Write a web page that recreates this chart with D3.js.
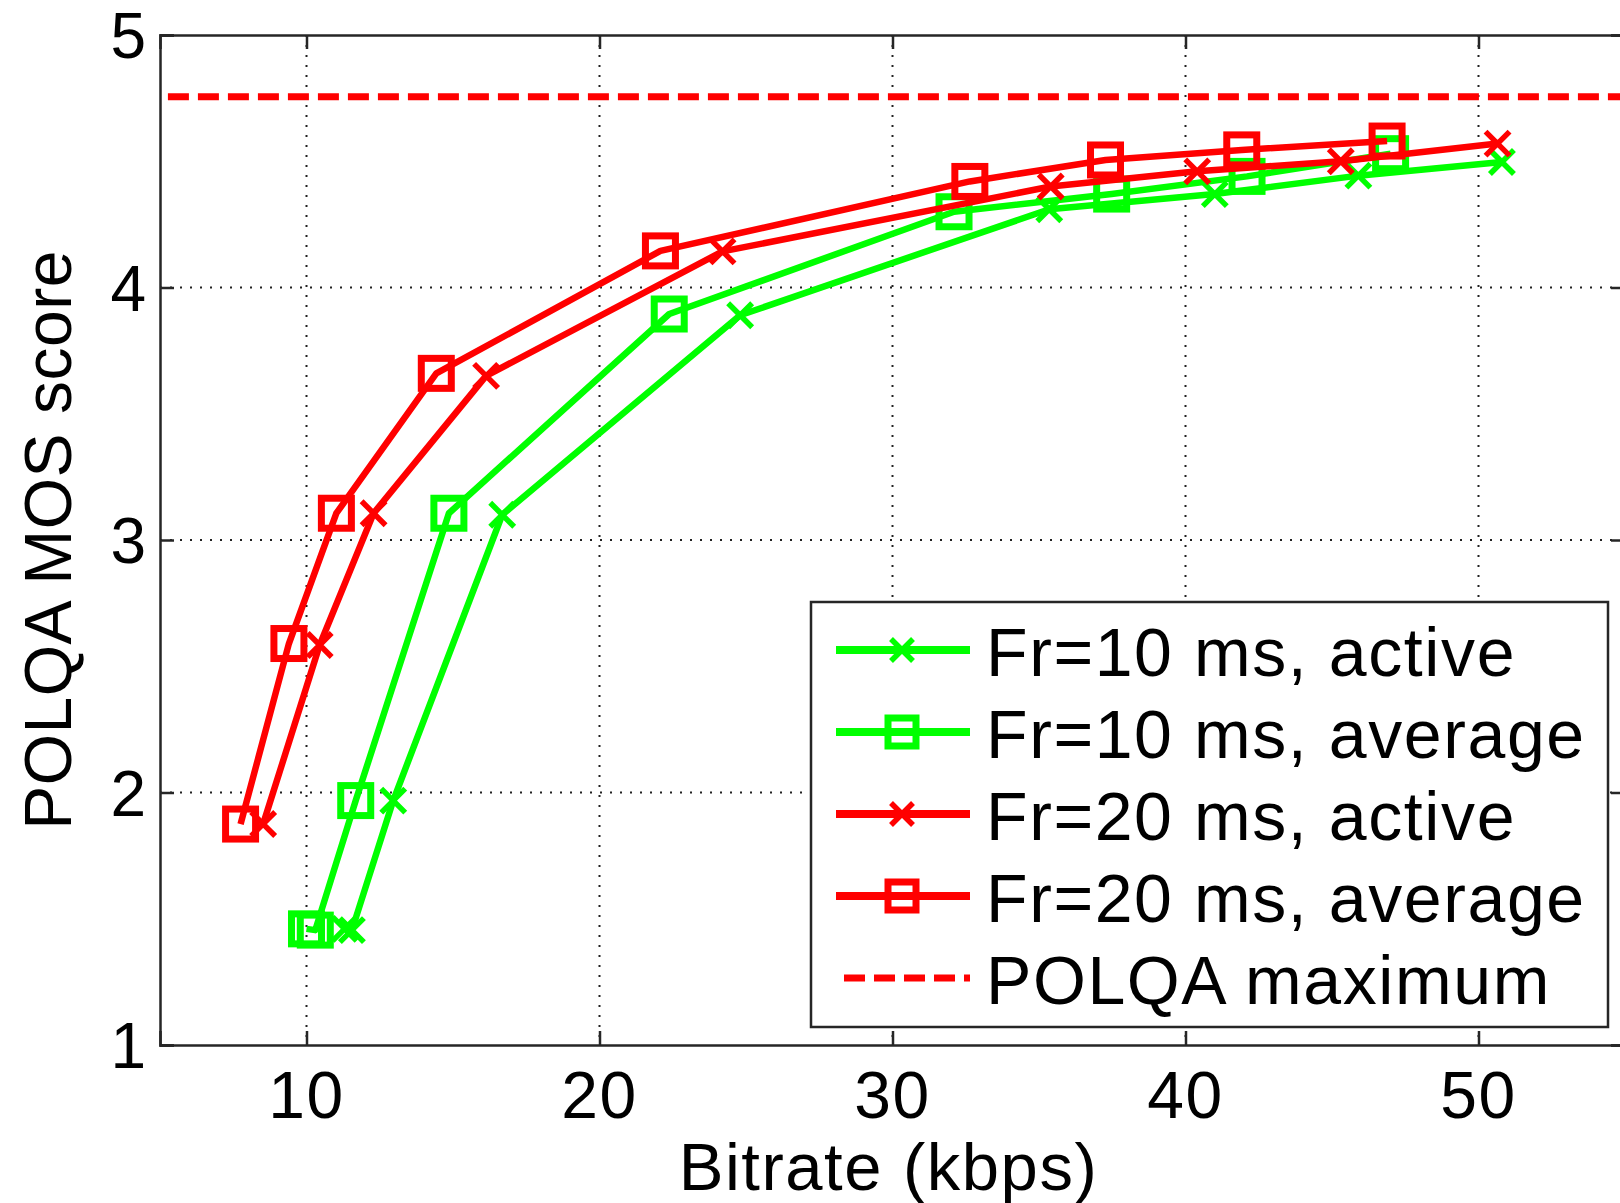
<!DOCTYPE html>
<html>
<head>
<meta charset="utf-8">
<script src="https://cdnjs.cloudflare.com/ajax/libs/d3/7.8.5/d3.min.js"></script>
<style>
  body { margin: 0; background: #ffffff; }
  text { font-family: "Liberation Sans", Arial, sans-serif; fill: #000; }
</style>
</head>
<body>
<script>
var green = "#00ff00";
var red = "#ff0000";
var axiscolour = "#262626";

// series values
var rate10Active = [11.3, 11.55, 12.96, 16.68, 24.8, 35.35, 41.0, 45.9, 50.8];
var mos10Active  = [1.46, 1.455, 1.968, 3.10, 3.89, 4.31, 4.37, 4.443, 4.497];
var rate10Avg    = [10.0, 10.3, 11.68, 14.86, 22.38, 32.1, 37.48, 42.1, 47.0];
var mos10Avg     = [1.46, 1.455, 1.968, 3.106, 3.895, 4.30, 4.37, 4.44, 4.53];
var rate20Active = [8.52, 10.45, 12.29, 16.13, 24.2, 35.4, 40.4, 45.3, 50.65];
var mos20Active  = [1.875, 2.584, 3.106, 3.65, 4.143, 4.40, 4.46, 4.50, 4.57];
var rate20Avg    = [7.75, 9.4, 11.02, 14.43, 22.08, 32.64, 37.27, 41.92, 46.88];
var mos20Avg     = [1.875, 2.59, 3.106, 3.66, 4.145, 4.42, 4.505, 4.545, 4.58];
var polqaMax = 4.755;
var polqaRange = [5.27, 55];

var xTicks = [10, 20, 30, 40, 50];
var yTicks = [1, 2, 3, 4, 5];
var legendLabels = ["Fr=10 ms, active", "Fr=10 ms, average", "Fr=20 ms, active", "Fr=20 ms, average", "POLQA maximum"];

var series = [
  { x: rate10Active, y: mos10Active, colour: green, marker: "x" },
  { x: rate10Avg,    y: mos10Avg,    colour: green, marker: "square" },
  { x: rate20Active, y: mos20Active, colour: red,   marker: "x" },
  { x: rate20Avg,    y: mos20Avg,    colour: red,   marker: "square" }
];

var holder = d3.select("body")
    .append("svg")
    .attr("width", 1620)
    .attr("height", 1203);

var x = d3.scaleLinear().domain([5, 55]).range([160, 1625]);
var y = d3.scaleLinear().domain([1, 5]).range([1045, 35]);

// white background
holder.append("rect")
    .attr("width", 1620)
    .attr("height", 1203)
    .style("fill", "#ffffff");

// dotted grid
var grid = holder.append("g");
grid.selectAll(".vgrid")
    .data(xTicks)
    .enter().append("line")
    .attr("x1", function(d) { return x(d); })
    .attr("x2", function(d) { return x(d); })
    .attr("y1", y(5))
    .attr("y2", y(1))
    .style("stroke", "#222")
    .style("stroke-width", 2)
    .style("stroke-dasharray", "2,8");
grid.selectAll(".hgrid")
    .data([2, 3, 4])
    .enter().append("line")
    .attr("x1", x(5))
    .attr("x2", x(55))
    .attr("y1", function(d) { return y(d); })
    .attr("y2", function(d) { return y(d); })
    .style("stroke", "#222")
    .style("stroke-width", 2)
    .style("stroke-dasharray", "2,8");

// axes: ticks point inwards on all four sides
var tickLen = 14;
holder.append("g")
    .attr("transform", "translate(0," + y(1) + ")")
    .call(d3.axisBottom(x).tickValues(xTicks).tickSize(-tickLen).tickFormat(""));
holder.append("g")
    .attr("transform", "translate(0," + y(5) + ")")
    .call(d3.axisTop(x).tickValues(xTicks).tickSize(-tickLen).tickFormat(""));
holder.append("g")
    .attr("transform", "translate(" + x(5) + ",0)")
    .call(d3.axisLeft(y).tickValues(yTicks).tickSize(-tickLen).tickFormat(""));
holder.append("g")
    .attr("transform", "translate(" + x(55) + ",0)")
    .call(d3.axisRight(y).tickValues(yTicks).tickSize(-tickLen).tickFormat(""));
holder.selectAll(".domain, .tick line")
    .style("stroke", axiscolour)
    .style("stroke-width", 2.5);

// tick labels
holder.selectAll(".xlab")
    .data(xTicks)
    .enter().append("text")
    .attr("x", function(d) { return x(d); })
    .attr("y", 1118)
    .attr("text-anchor", "middle")
    .style("font-size", "66px")
    .style("letter-spacing", "1.5px")
    .text(function(d) { return d; });
holder.selectAll(".ylab")
    .data(yTicks)
    .enter().append("text")
    .attr("x", 146)
    .attr("y", function(d) { return y(d) + 23; })
    .attr("text-anchor", "end")
    .style("font-size", "64px")
    .text(function(d) { return d; });

// axis titles
holder.append("text")
    .attr("x", (x(5) + x(55)) / 2 - 4)
    .attr("y", 1190)
    .attr("text-anchor", "middle")
    .style("font-size", "67px")
    .style("letter-spacing", "1.5px")
    .text("Bitrate (kbps)");
holder.append("text")
    .attr("transform", "translate(71," + ((y(1) + y(5)) / 2) + ") rotate(-90)")
    .attr("text-anchor", "middle")
    .style("font-size", "66px")
    .style("letter-spacing", "0.5px")
    .text("POLQA MOS score");

// marker drawing
function drawMarker(g, kind, cx, cy, colour, s) {
  if (kind === "square") {
    g.append("rect")
        .attr("x", cx - s)
        .attr("y", cy - s)
        .attr("width", 2 * s)
        .attr("height", 2 * s)
        .style("fill", "none")
        .style("stroke", colour)
        .style("stroke-width", 7);
  } else {
    g.append("path")
        .attr("d", "M" + (cx - s) + "," + (cy - s) + "L" + (cx + s) + "," + (cy + s) +
                   "M" + (cx - s) + "," + (cy + s) + "L" + (cx + s) + "," + (cy - s))
        .style("fill", "none")
        .style("stroke", colour)
        .style("stroke-width", 5.5);
  }
}

// data lines
var line = d3.line()
    .x(function(d) { return x(d[0]); })
    .y(function(d) { return y(d[1]); });

series.forEach(function(s) {
  var pts = d3.zip(s.x, s.y);
  var g = holder.append("g");
  g.append("path")
      .datum(pts)
      .attr("d", line)
      .style("fill", "none")
      .style("stroke", s.colour)
      .style("stroke-width", 6.5)
      .style("stroke-linejoin", "round");
  pts.forEach(function(p) {
    drawMarker(g, s.marker, x(p[0]), y(p[1]), s.colour, s.marker === "square" ? 15 : 12);
  });
});

// POLQA maximum
holder.append("line")
    .attr("x1", x(polqaRange[0]))
    .attr("x2", x(polqaRange[1]))
    .attr("y1", y(polqaMax))
    .attr("y2", y(polqaMax))
    .style("stroke", red)
    .style("stroke-width", 7)
    .style("stroke-dasharray", "21,9");

// legend
var legend = holder.append("g");
legend.append("rect")
    .attr("x", 811)
    .attr("y", 602)
    .attr("width", 797)
    .attr("height", 425)
    .style("fill", "#ffffff")
    .style("stroke", axiscolour)
    .style("stroke-width", 2.5);

var legendKeys = series.concat([{ colour: red, marker: "dash" }]);
legendKeys.forEach(function(s, i) {
  var cy = 650 + i * 82;
  if (s.marker === "dash") {
    legend.append("line")
        .attr("x1", 844).attr("x2", 970)
        .attr("y1", cy).attr("y2", cy)
        .style("stroke", s.colour)
        .style("stroke-width", 7)
        .style("stroke-dasharray", "21,9");
  } else {
    legend.append("line")
        .attr("x1", 836).attr("x2", 970)
        .attr("y1", cy).attr("y2", cy)
        .style("stroke", s.colour)
        .style("stroke-width", 8);
    drawMarker(legend, s.marker, 902, cy, s.colour, s.marker === "square" ? 14 : 11);
  }
  legend.append("text")
      .attr("x", 986)
      .attr("y", cy + 26)
      .style("font-size", "68px")
      .style("letter-spacing", "1.6px")
      .text(legendLabels[i]);
});
</script>
</body>
</html>
